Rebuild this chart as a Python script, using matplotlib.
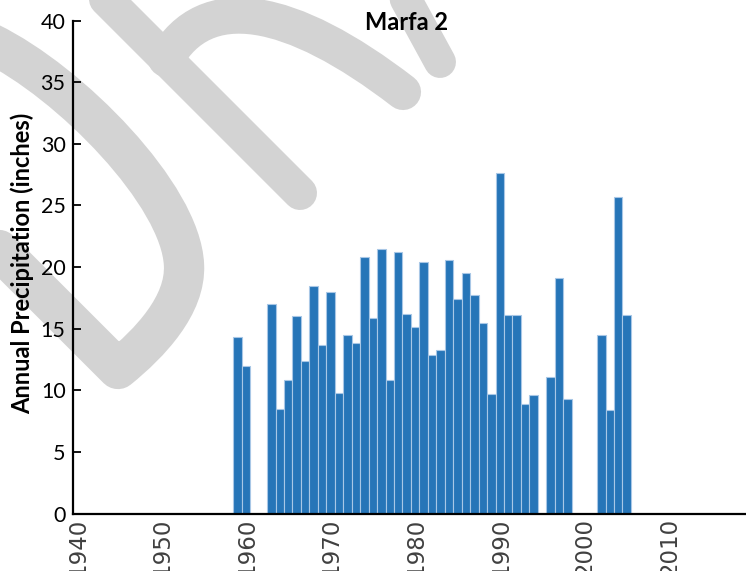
import numpy as np
import matplotlib.pyplot as plt
import matplotlib.transforms as mtransforms
from matplotlib.path import Path
from matplotlib.patches import PathPatch

# ============================================================
# Data: annual precipitation, Marfa 2 (inches)
# ============================================================

years = [1959, 1960, 1963, 1964, 1965, 1966, 1967, 1968, 1969, 1970,
         1971, 1972, 1973, 1974, 1975, 1976, 1977, 1978, 1979, 1980,
         1981, 1982, 1983, 1984, 1985, 1986, 1987, 1988, 1989, 1990,
         1991, 1992, 1993, 1994, 1996, 1997, 1998, 2002, 2003, 2004,
         2005]
precip = [14.3, 12.0, 17.0, 8.5, 10.8, 16.0, 12.4, 18.5, 13.7, 18.0,
          9.8, 14.5, 13.8, 20.8, 15.9, 21.5, 10.8, 21.2, 16.2, 15.1,
          20.4, 12.9, 13.3, 20.6, 17.4, 19.5, 17.7, 15.5, 9.7, 27.6,
          16.1, 16.1, 8.9, 9.6, 11.1, 19.1, 9.3, 14.5, 8.4, 25.7,
          16.1]

x_ticks = list(range(1940, 2011, 10))
y_ticks = list(range(0, 41, 5))

title = "Marfa 2"
y_label = "Annual Precipitation (inches)"

bar_color = "#2675b8"
edge_color = "#a8c7e6"
wm_color = "#d3d3d3"

W, H = 746, 571
fig = plt.figure(figsize=(W / 100, H / 100), dpi=100, facecolor="white")

# ============================================================
# Watermark behind the chart (pixel coordinates)
# ============================================================

wm = fig.add_axes([0, 0, 1, 1], zorder=0)
wm.set_xlim(0, W)
wm.set_ylim(H, 0)
wm.axis("off")

M, L, C = Path.MOVETO, Path.LINETO, Path.CURVE4

d_shape = Path(
    [(-10, 43), (70, 82), (181, 195), (184, 265),
     (186, 305), (150, 343), (118, 369), (-30, 221)],
    [M, C, C, C, C, C, C, L])
h_stem = Path([(96, -11), (300, 193)], [M, L])
h_arch = Path([(166, 59), (205, -10), (290, 5), (403, 92)], [M, C, C, C])
third = Path([(398, -15), (440, 62)], [M, L])

for p, lw in [(d_shape, 29), (h_stem, 24.5), (h_arch, 26), (third, 23)]:
    wm.add_patch(PathPatch(p, fill=False, edgecolor=wm_color, lw=lw,
                           capstyle="round", joinstyle="round"))

# ============================================================
# Main chart
# ============================================================

x0, x1 = 72.5, 746
y0, y1 = 513.5, 20.7
ax = fig.add_axes([x0 / W, 1 - y0 / H, (x1 - x0) / W, (y0 - y1) / H], zorder=1)
ax.set_facecolor("none")

ax.bar(years, precip, width=1.0, align="edge", color=bar_color,
       edgecolor=edge_color, linewidth=0.8)

ax.set_xlim(1940, 2019.6)
ax.set_ylim(0, 40)

for s in ["top", "right"]:
    ax.spines[s].set_visible(False)
for s in ["left", "bottom"]:
    ax.spines[s].set_linewidth(1.6)
    ax.spines[s].set_color("black")

ax.set_yticks(y_ticks)
ax.set_yticklabels([str(v) for v in y_ticks], fontfamily="Lato", fontsize=15.5)
ax.tick_params(axis="y", direction="in", length=6, width=1.3, pad=5)

# the year labels run past the bottom edge, as in the original
ax.set_xticks(x_ticks)
ax.set_xticklabels([str(v) for v in x_ticks], rotation=90,
                   fontfamily="DejaVu Sans", fontsize=16.5, color="#404040")
ax.tick_params(axis="x", length=0, pad=3)
shift = mtransforms.ScaledTranslation(5 / 100, 0, fig.dpi_scale_trans)
for lab in ax.get_xticklabels():
    lab.set_transform(lab.get_transform() + shift)

fig.text(407 / W, 1 - 23 / H, title, ha="center", va="center",
         fontfamily="Lato", fontweight="bold", fontsize=17)
fig.text(22 / W, 1 - 263 / H, y_label, ha="center", va="center",
         rotation=90, fontfamily="Lato", fontweight="bold", fontsize=17)

fig.savefig("out.png", dpi=100)
